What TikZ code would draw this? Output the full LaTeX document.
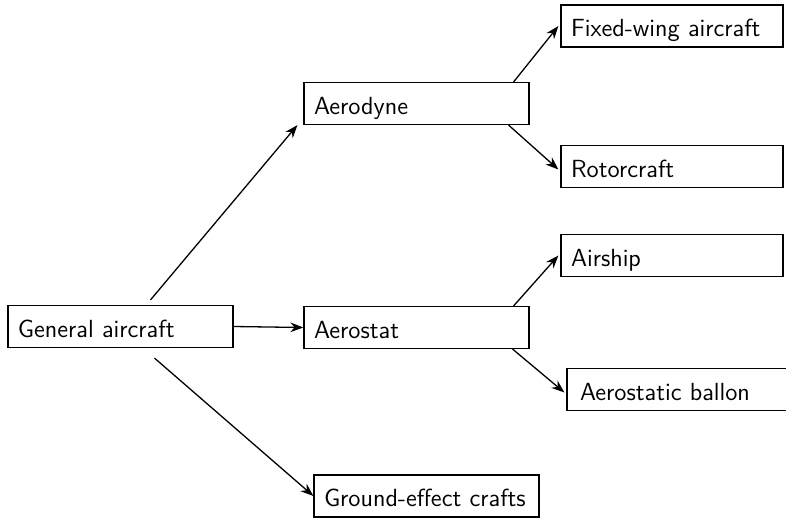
\documentclass[tikz,border=0pt]{standalone}
\usetikzlibrary{arrows.meta,positioning}

\begin{document}
\begin{tikzpicture}[x=0.5pt, y=-0.5pt,
    every node/.style={font=\sffamily\fontsize{12.4}{14}\selectfont},
    box/.style={draw, line width=0.6pt, minimum width=112.5pt, minimum height=21pt,
        inner xsep=5pt, inner ysep=0pt, text width=102.5pt, align=left,
        text height=11.5pt, text depth=1pt},
    link/.style={line width=0.65pt, -{Stealth[length=6.5pt,width=4.8pt]}}]
    \useasboundingbox (0,0) rectangle (786,519);
    % root
    \node[box] (gen) at (120.5,326.5) {General aircraft};
    % first level
    \node[box] (aerodyne) at (416.5,103.5) {Aerodyne};
    \node[box] (aerostat) at (416.5,327.5) {Aerostat};
    \node[box] (ground) at (426.5,496) {Ground-effect crafts};
    % second level
    \node[box, minimum width=111pt, text width=101pt] (fixed) at (672,26) {Fixed-wing aircraft};
    \node[box, minimum width=111pt, text width=101pt] (rotor) at (672,166.5) {Rotorcraft};
    \node[box, minimum width=111pt, text width=101pt] (airship) at (672,255.5) {Airship};
    \node[box, inner xsep=6.5pt, text width=99.5pt] (ballon) at (679.5,389.5) {Aerostatic ballon};
    % connectors
    \draw[link] ([xshift=15pt,yshift=2.5pt]gen.north) -- ([xshift=-3pt]aerodyne.south west);
    \draw[link] (gen.east) -- (aerostat.west);
    \draw[link] ([xshift=17pt,yshift=-5pt]gen.south) -- (ground.west);
    \foreach \from/\to/\dx/\corner/\tip in {aerodyne/fixed/-8/north east/0, aerodyne/rotor/-10.5/south east/-1.5,
        aerostat/airship/-8/north east/0, aerostat/ballon/-8.5/south east/-1.5} {
        \draw[link] ([xshift=\dx pt]\from.\corner) -- ([xshift=-1pt,yshift=\tip pt]\to.west);
    }
\end{tikzpicture}
\end{document}
